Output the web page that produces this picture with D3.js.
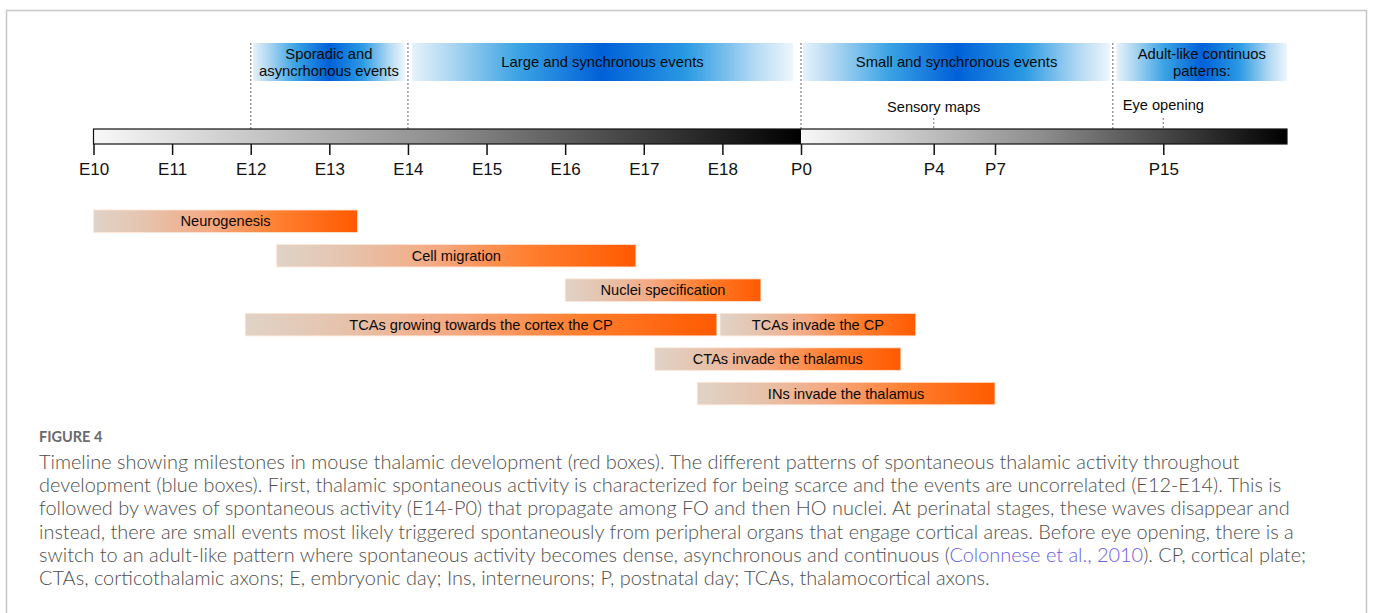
<!DOCTYPE html>
<html>
<head>
<meta charset="utf-8">
<script src="https://cdn.jsdelivr.net/npm/d3@7"></script>
<style>
  html, body { margin: 0; padding: 0; background: #fff; }
  svg { display: block; }
</style>
</head>
<body>
<svg id="chart" width="1373" height="613"></svg>
<script>
// ---------- DATA ----------
// Day index: E10 = 10 ... E18 = 18, P0 = 19, Pn = 19 + n
const tickLabels = ["E10","E11","E12","E13","E14","E15","E16","E17","E18","P0","P4","P7","P15"];
const tickDays   = [10,11,12,13,14,15,16,17,18,19,23,26,34];
const axisStart = 10, birthDay = 19, axisEnd = 40;

// activity periods (blue boxes)
const periodLabels = [["Sporadic and","asyncrhonous events"],["Large and synchronous events"],["Small and synchronous events"],["Adult-like continuos","patterns:"]];
const periodStart  = [12.03, 14.05, 19.06, 31.78];
const periodEnd    = [13.96, 18.90, 31.47, 40.0];
const dividerDays  = [12, 14, 19, 31.6];

// events above the axis
const eventLabels = ["Sensory maps", "Eye opening"];
const eventDays   = [23, 34];

// milestones (orange boxes)
const milestoneLabels = ["Neurogenesis","Cell migration","Nuclei specification","TCAs growing towards the cortex the CP","TCAs invade the CP","CTAs invade the thalamus","INs invade the thalamus"];
const milestoneStart  = [10.0, 12.33, 16.0, 11.93, 17.97, 17.14, 17.68];
const milestoneEnd    = [13.36, 16.90, 18.49, 17.93, 22.46, 22.01, 26.0];
const milestoneRow    = [0, 1, 2, 3, 3, 4, 5];

const figureLabel = "FIGURE 4";
const captionLines = [
  ["Timeline showing milestones in mouse thalamic development (red boxes). The different patterns of spontaneous thalamic activity throughout"],
  ["development (blue boxes). First, thalamic spontaneous activity is characterized for being scarce and the events are uncorrelated (E12-E14). This is"],
  ["followed by waves of spontaneous activity (E14-P0) that propagate among FO and then HO nuclei. At perinatal stages, these waves disappear and"],
  ["instead, there are small events most likely triggered spontaneously from peripheral organs that engage cortical areas. Before eye opening, there is a"],
  ["switch to an adult-like pattern where spontaneous activity becomes dense, asynchronous and continuous (", {link:"Colonnese et al., 2010"}, "). CP, cortical plate;"],
  ["CTAs, corticothalamic axons; E, embryonic day; Ins, interneurons; P, postnatal day; TCAs, thalamocortical axons."]
];

// ---------- SCALES ----------
const x = d3.scaleLinear()
  .domain([axisStart, birthDay, 23, 26, 34, axisEnd])
  .range([93.5, 801, 933.7, 995, 1163.3, 1287]);
const rowY = d3.scaleLinear().domain([0, 5]).range([210, 382.3]);
const rowH = 22.5;

const svg = d3.select("#chart");
const defs = svg.append("defs");

// frame
svg.append("rect").attr("x", 6.5).attr("y", 10.5).attr("width", 1360).attr("height", 700)
  .attr("fill", "none").attr("stroke", "#c6c6c6").attr("stroke-width", 1.5);

// gradients
const gGray = defs.append("linearGradient").attr("id", "gray").attr("x1","0%").attr("x2","100%");
gGray.append("stop").attr("offset","0%").attr("stop-color","#f8f8f8");
gGray.append("stop").attr("offset","50%").attr("stop-color","#8c8c8c");
gGray.append("stop").attr("offset","100%").attr("stop-color","#000");

const gBlue = defs.append("linearGradient").attr("id", "blue").attr("x1","0%").attr("x2","100%");
[[0,"#e6f2fb"],[0.1,"#afd7f2"],[0.28,"#3aa3e4"],[0.5,"#0060d8"],[0.72,"#2a9ae3"],[0.9,"#b4daf3"],[1,"#eef6fc"]]
  .forEach(([o,c]) => gBlue.append("stop").attr("offset", o).attr("stop-color", c));

const gOrange = defs.append("linearGradient").attr("id", "orange").attr("x1","0%").attr("x2","100%");
[[0,"#e0d3c7"],[0.2,"#e6c3ad"],[0.45,"#f5a880"],[0.7,"#ff7f30"],[1,"#ff5a00"]]
  .forEach(([o,c]) => gOrange.append("stop").attr("offset", o).attr("stop-color", c));

const sans = "'Liberation Sans', Arial, sans-serif";

// ---------- BLUE PERIODS ----------
const periods = periodLabels.map((l, i) => ({ lines: l, s: periodStart[i], e: periodEnd[i] }));
const boxTop = 43, boxH = 38;
svg.append("g").selectAll("rect").data(periods).join("rect")
  .attr("x", d => x(d.s)).attr("y", boxTop)
  .attr("width", d => x(d.e) - x(d.s)).attr("height", boxH)
  .attr("fill", "url(#blue)");
const pt = svg.append("g").selectAll("text").data(periods).join("text")
  .attr("text-anchor", "middle").attr("font-family", sans).attr("font-size", 14.8).attr("fill", "#0a0a0a");
pt.each(function(d) {
  const n = d.lines.length, cx = (x(d.s) + x(d.e)) / 2, cy = boxTop + boxH / 2;
  d.lines.forEach((ln, j) => {
    d3.select(this).append("tspan").attr("x", cx)
      .attr("y", cy + 5 + (j - (n - 1) / 2) * 17).text(ln);
  });
});

// dividers
svg.append("g").selectAll("line").data(dividerDays).join("line")
  .attr("x1", d => x(d)).attr("x2", d => x(d)).attr("y1", boxTop).attr("y2", 129)
  .attr("stroke", "#8a8a8a").attr("stroke-width", 1.3).attr("stroke-dasharray", "2,2");

// events
const events = eventLabels.map((l, i) => ({ l, d: eventDays[i] }));
svg.append("g").selectAll("line").data(events).join("line")
  .attr("x1", d => x(d.d)).attr("x2", d => x(d.d)).attr("y1", 118).attr("y2", 129)
  .attr("stroke", "#8a8a8a").attr("stroke-width", 1.2).attr("stroke-dasharray", "2,2");
svg.append("g").selectAll("text").data(events).join("text")
  .attr("x", d => x(d.d)).attr("y", (d, i) => i === 0 ? 112 : 110)
  .attr("text-anchor", "middle").attr("font-family", sans).attr("font-size", 14.6).attr("fill", "#0a0a0a")
  .text(d => d.l);

// ---------- AXIS BAR ----------
const barY = 129, barH = 15;
svg.append("g").selectAll("rect").data([[axisStart, birthDay],[birthDay, axisEnd]]).join("rect")
  .attr("x", d => x(d[0])).attr("y", barY).attr("width", d => x(d[1]) - x(d[0])).attr("height", barH)
  .attr("fill", "url(#gray)");
svg.append("rect").attr("x", x(axisStart)).attr("y", barY)
  .attr("width", x(axisEnd) - x(axisStart)).attr("height", barH)
  .attr("fill", "none").attr("stroke", "#111").attr("stroke-width", 1.2);

const axis = d3.axisBottom(x).tickValues(tickDays)
  .tickFormat((d) => tickLabels[tickDays.indexOf(d)])
  .tickSizeInner(11).tickSizeOuter(0).tickPadding(8);
const ax = svg.append("g").attr("transform", `translate(0,${barY + barH})`).call(axis);
ax.select(".domain").remove();
ax.selectAll(".tick line").attr("stroke", "#111").attr("stroke-width", 1.5);
ax.selectAll(".tick text").attr("font-family", sans).attr("font-size", 17).attr("fill", "#111");

// ---------- MILESTONES ----------
const ms = milestoneLabels.map((l, i) => ({ l, s: milestoneStart[i], e: milestoneEnd[i], r: milestoneRow[i] }));
svg.append("g").selectAll("rect").data(ms).join("rect")
  .attr("x", d => x(d.s)).attr("y", d => rowY(d.r))
  .attr("width", d => x(d.e) - x(d.s)).attr("height", rowH)
  .attr("fill", "url(#orange)").attr("stroke", "#ffe6d6").attr("stroke-width", 0.8);
svg.append("g").selectAll("text").data(ms).join("text")
  .attr("x", d => (x(d.s) + x(d.e)) / 2).attr("y", d => rowY(d.r) + rowH / 2 + 5)
  .attr("text-anchor", "middle").attr("font-family", sans).attr("font-size", 14.6).attr("fill", "#0a0a0a")
  .text(d => d.l);

// ---------- CAPTION ----------
const capFont = "Lato, 'Open Sans', sans-serif";
svg.append("text").attr("x", 39).attr("y", 441.7)
  .attr("font-family", capFont).attr("font-weight", 700).attr("font-size", 14.5)
  .attr("fill", "#6a6a6a").text(figureLabel);

const cap = svg.append("text").attr("font-family", capFont).attr("font-weight", 300)
  .attr("font-size", 18).attr("fill", "#4e4e4e");
captionLines.forEach((parts, i) => {
  const t = cap.append("tspan").attr("x", 39).attr("y", 469 + i * 23.2);
  parts.forEach((p, k) => {
    if (typeof p === "string") {
      if (k === 0) t.text(p); else cap.append("tspan").text(p);
    } else {
      if (k === 0) t.attr("fill", "#6f63e6").text(p.link); else cap.append("tspan").attr("fill", "#6a5ee6").text(p.link);
    }
  });
});
// fit caption size so line 1 spans the reference width
const firstLine = cap.select("tspan").node();
const w = firstLine.getComputedTextLength();
if (w > 0) cap.attr("font-size", 18 * 1201 / w);
</script>
</body>
</html>
